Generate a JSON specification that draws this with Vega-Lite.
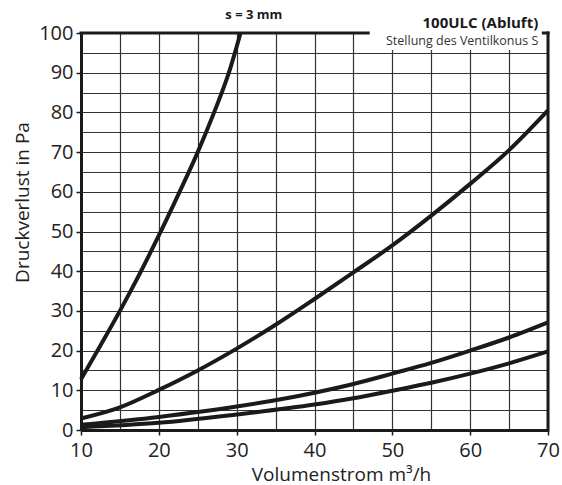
{
  "$schema": "https://vega.github.io/schema/vega-lite/v6.json",
  "autosize": "none",
  "width": 467,
  "height": 397,
  "padding": {"left": 81, "top": 33, "right": 14, "bottom": 55},
  "background": "white",
  "config": {
    "view": {"stroke": null},
    "font": "Open Sans",
    "axis": {
      "domainColor": "#1a1a1a",
      "domainWidth": 3,
      "gridColor": "#333333",
      "gridWidth": 1.2,
      "gridOpacity": 1,
      "tickColor": "#1a1a1a",
      "tickWidth": 1.5,
      "tickSize": 5,
      "labelFont": "Open Sans",
      "labelFontSize": 20,
      "labelColor": "#222222",
      "labelOverlap": false,
      "labelFlush": false,
      "titleFont": "Open Sans",
      "titleFontSize": 19,
      "titleFontWeight": "normal",
      "titleColor": "#222222"
    }
  },
  "data": {
    "values": [
      {"s": "a", "q": 10, "p": 12.8}, {"s": "a", "q": 12.5, "p": 21.3}, {"s": "a", "q": 15, "p": 30},
      {"s": "a", "q": 17.5, "p": 39.2}, {"s": "a", "q": 20, "p": 49}, {"s": "a", "q": 22.5, "p": 59.3},
      {"s": "a", "q": 25, "p": 70}, {"s": "a", "q": 27, "p": 79.5}, {"s": "a", "q": 29, "p": 90},
      {"s": "a", "q": 30.5, "p": 100},
      {"s": "b", "q": 10, "p": 2.9}, {"s": "b", "q": 15, "p": 5.7}, {"s": "b", "q": 20, "p": 10.1},
      {"s": "b", "q": 25, "p": 15}, {"s": "b", "q": 30, "p": 20.5}, {"s": "b", "q": 35, "p": 26.5},
      {"s": "b", "q": 40, "p": 33}, {"s": "b", "q": 45, "p": 39.7}, {"s": "b", "q": 50, "p": 46.5},
      {"s": "b", "q": 55, "p": 54}, {"s": "b", "q": 60, "p": 62}, {"s": "b", "q": 65, "p": 70.5},
      {"s": "b", "q": 70, "p": 80.5},
      {"s": "c", "q": 10, "p": 1.3}, {"s": "c", "q": 20, "p": 3.3}, {"s": "c", "q": 30, "p": 5.9},
      {"s": "c", "q": 40, "p": 9.4}, {"s": "c", "q": 45, "p": 11.6}, {"s": "c", "q": 50, "p": 14.2},
      {"s": "c", "q": 55, "p": 16.9}, {"s": "c", "q": 60, "p": 20}, {"s": "c", "q": 65, "p": 23.3},
      {"s": "c", "q": 70, "p": 27.1},
      {"s": "d", "q": 10, "p": 0.7}, {"s": "d", "q": 20, "p": 1.8}, {"s": "d", "q": 30, "p": 3.9},
      {"s": "d", "q": 40, "p": 6.4}, {"s": "d", "q": 45, "p": 8}, {"s": "d", "q": 50, "p": 9.9},
      {"s": "d", "q": 55, "p": 11.9}, {"s": "d", "q": 60, "p": 14.2}, {"s": "d", "q": 65, "p": 16.8},
      {"s": "d", "q": 70, "p": 19.8}
    ]
  },
  "layer": [
    {
      "mark": {"type": "line", "interpolate": "monotone", "color": "#1a1a1a", "strokeWidth": 4},
      "encoding": {
        "x": {
          "field": "q", "type": "quantitative",
          "scale": {"domain": [10, 70], "nice": false, "zero": false},
          "axis": {"values": [10, 15, 20, 25, 30, 35, 40, 45, 50, 55, 60, 65, 70], "labelExpr": "datum.value % 10 === 0 ? datum.label : ''", "tickOpacity": {"condition": {"test": "datum.value % 10 !== 0", "value": 0}, "value": 1}, "labelPadding": 5, "title": "Volumenstrom m³/h", "titleX": 260, "titlePadding": 5}
        },
        "y": {
          "field": "p", "type": "quantitative",
          "scale": {"domain": [0, 100], "nice": false, "zero": false},
          "axis": {"values": [0, 5, 10, 15, 20, 25, 30, 35, 40, 45, 50, 55, 60, 65, 70, 75, 80, 85, 90, 95, 100], "labelExpr": "datum.value % 10 === 0 ? datum.label : ''", "tickOpacity": {"condition": {"test": "datum.value % 10 !== 0", "value": 0}, "value": 1}, "labelPadding": 3, "title": "Druckverlust in Pa", "titleY": 169, "titlePadding": 6}
        },
        "detail": {"field": "s"}
      }
    },
    {
      "data": {"values": [{}]},
      "mark": {"type": "rect", "color": "white"},
      "encoding": {
        "x": {"datum": 46.9, "type": "quantitative", "scale": {"domain": [10, 70], "nice": false, "zero": false},
          "axis": {"values": [10, 15, 20, 25, 30, 35, 40, 45, 50, 55, 60, 65, 70], "labelExpr": "datum.value % 10 === 0 ? datum.label : ''", "tickOpacity": {"condition": {"test": "datum.value % 10 !== 0", "value": 0}, "value": 1}, "labelPadding": 5, "title": "Volumenstrom m³/h", "titleX": 260, "titlePadding": 5}},
        "x2": {"datum": 69.4},
        "y": {"datum": 95.7, "type": "quantitative", "scale": {"domain": [0, 100], "nice": false, "zero": false},
          "axis": {"values": [0, 5, 10, 15, 20, 25, 30, 35, 40, 45, 50, 55, 60, 65, 70, 75, 80, 85, 90, 95, 100], "labelExpr": "datum.value % 10 === 0 ? datum.label : ''", "tickOpacity": {"condition": {"test": "datum.value % 10 !== 0", "value": 0}, "value": 1}, "labelPadding": 3, "title": "Druckverlust in Pa", "titleY": 169, "titlePadding": 6}},
        "y2": {"datum": 100}
      }
    },
    {
      "data": {"values": [{}]},
      "mark": {"type": "rule", "color": "#1a1a1a", "strokeWidth": 3, "strokeCap": "square"},
      "encoding": {
        "x": {"datum": 10, "type": "quantitative", "scale": {"domain": [10, 70], "nice": false, "zero": false},
          "axis": {"values": [10, 15, 20, 25, 30, 35, 40, 45, 50, 55, 60, 65, 70], "labelExpr": "datum.value % 10 === 0 ? datum.label : ''", "tickOpacity": {"condition": {"test": "datum.value % 10 !== 0", "value": 0}, "value": 1}, "labelPadding": 5, "title": "Volumenstrom m³/h", "titleX": 260, "titlePadding": 5}},
        "x2": {"datum": 46.9},
        "y": {"datum": 100, "type": "quantitative", "scale": {"domain": [0, 100], "nice": false, "zero": false},
          "axis": {"values": [0, 5, 10, 15, 20, 25, 30, 35, 40, 45, 50, 55, 60, 65, 70, 75, 80, 85, 90, 95, 100], "labelExpr": "datum.value % 10 === 0 ? datum.label : ''", "tickOpacity": {"condition": {"test": "datum.value % 10 !== 0", "value": 0}, "value": 1}, "labelPadding": 3, "title": "Druckverlust in Pa", "titleY": 169, "titlePadding": 6}}
      }
    },
    {
      "data": {"values": [{}]},
      "mark": {"type": "rule", "color": "#1a1a1a", "strokeWidth": 3, "strokeCap": "square"},
      "encoding": {
        "x": {"datum": 69.4, "type": "quantitative", "scale": {"domain": [10, 70], "nice": false, "zero": false},
          "axis": {"values": [10, 15, 20, 25, 30, 35, 40, 45, 50, 55, 60, 65, 70], "labelExpr": "datum.value % 10 === 0 ? datum.label : ''", "tickOpacity": {"condition": {"test": "datum.value % 10 !== 0", "value": 0}, "value": 1}, "labelPadding": 5, "title": "Volumenstrom m³/h", "titleX": 260, "titlePadding": 5}},
        "x2": {"datum": 70},
        "y": {"datum": 100, "type": "quantitative", "scale": {"domain": [0, 100], "nice": false, "zero": false},
          "axis": {"values": [0, 5, 10, 15, 20, 25, 30, 35, 40, 45, 50, 55, 60, 65, 70, 75, 80, 85, 90, 95, 100], "labelExpr": "datum.value % 10 === 0 ? datum.label : ''", "tickOpacity": {"condition": {"test": "datum.value % 10 !== 0", "value": 0}, "value": 1}, "labelPadding": 3, "title": "Druckverlust in Pa", "titleY": 169, "titlePadding": 6}}
      }
    },
    {
      "data": {"values": [{}]},
      "mark": {"type": "rule", "color": "#1a1a1a", "strokeWidth": 3, "strokeCap": "square"},
      "encoding": {
        "x": {"datum": 70, "type": "quantitative", "scale": {"domain": [10, 70], "nice": false, "zero": false},
          "axis": {"values": [10, 15, 20, 25, 30, 35, 40, 45, 50, 55, 60, 65, 70], "labelExpr": "datum.value % 10 === 0 ? datum.label : ''", "tickOpacity": {"condition": {"test": "datum.value % 10 !== 0", "value": 0}, "value": 1}, "labelPadding": 5, "title": "Volumenstrom m³/h", "titleX": 260, "titlePadding": 5}},
        "y": {"datum": 0, "type": "quantitative", "scale": {"domain": [0, 100], "nice": false, "zero": false},
          "axis": {"values": [0, 5, 10, 15, 20, 25, 30, 35, 40, 45, 50, 55, 60, 65, 70, 75, 80, 85, 90, 95, 100], "labelExpr": "datum.value % 10 === 0 ? datum.label : ''", "tickOpacity": {"condition": {"test": "datum.value % 10 !== 0", "value": 0}, "value": 1}, "labelPadding": 3, "title": "Druckverlust in Pa", "titleY": 169, "titlePadding": 6}},
        "y2": {"datum": 100}
      }
    },
    {
      "data": {"values": [{}]},
      "mark": {"type": "text", "text": "s = 3 mm", "font": "Open Sans", "fontSize": 13, "fontWeight": "bold", "color": "#1a1a1a", "align": "center", "baseline": "alphabetic"},
      "encoding": {
        "x": {"datum": 32.2, "type": "quantitative", "scale": {"domain": [10, 70], "nice": false, "zero": false},
          "axis": {"values": [10, 15, 20, 25, 30, 35, 40, 45, 50, 55, 60, 65, 70], "labelExpr": "datum.value % 10 === 0 ? datum.label : ''", "tickOpacity": {"condition": {"test": "datum.value % 10 !== 0", "value": 0}, "value": 1}, "labelPadding": 5, "title": "Volumenstrom m³/h", "titleX": 260, "titlePadding": 5}},
        "y": {"datum": 103.5, "type": "quantitative", "scale": {"domain": [0, 100], "nice": false, "zero": false},
          "axis": {"values": [0, 5, 10, 15, 20, 25, 30, 35, 40, 45, 50, 55, 60, 65, 70, 75, 80, 85, 90, 95, 100], "labelExpr": "datum.value % 10 === 0 ? datum.label : ''", "tickOpacity": {"condition": {"test": "datum.value % 10 !== 0", "value": 0}, "value": 1}, "labelPadding": 3, "title": "Druckverlust in Pa", "titleY": 169, "titlePadding": 6}}
      }
    },
    {
      "data": {"values": [{}]},
      "mark": {"type": "text", "text": "100ULC (Abluft)", "font": "Open Sans", "fontSize": 15, "fontWeight": "bold", "color": "#1a1a1a", "align": "right", "baseline": "alphabetic"},
      "encoding": {
        "x": {"datum": 68.75, "type": "quantitative", "scale": {"domain": [10, 70], "nice": false, "zero": false},
          "axis": {"values": [10, 15, 20, 25, 30, 35, 40, 45, 50, 55, 60, 65, 70], "labelExpr": "datum.value % 10 === 0 ? datum.label : ''", "tickOpacity": {"condition": {"test": "datum.value % 10 !== 0", "value": 0}, "value": 1}, "labelPadding": 5, "title": "Volumenstrom m³/h", "titleX": 260, "titlePadding": 5}},
        "y": {"datum": 101.2, "type": "quantitative", "scale": {"domain": [0, 100], "nice": false, "zero": false},
          "axis": {"values": [0, 5, 10, 15, 20, 25, 30, 35, 40, 45, 50, 55, 60, 65, 70, 75, 80, 85, 90, 95, 100], "labelExpr": "datum.value % 10 === 0 ? datum.label : ''", "tickOpacity": {"condition": {"test": "datum.value % 10 !== 0", "value": 0}, "value": 1}, "labelPadding": 3, "title": "Druckverlust in Pa", "titleY": 169, "titlePadding": 6}}
      }
    },
    {
      "data": {"values": [{}]},
      "mark": {"type": "text", "text": "Stellung des Ventilkonus S", "font": "Open Sans", "fontSize": 12.5, "color": "#333333", "align": "right", "baseline": "alphabetic"},
      "encoding": {
        "x": {"datum": 68.75, "type": "quantitative", "scale": {"domain": [10, 70], "nice": false, "zero": false},
          "axis": {"values": [10, 15, 20, 25, 30, 35, 40, 45, 50, 55, 60, 65, 70], "labelExpr": "datum.value % 10 === 0 ? datum.label : ''", "tickOpacity": {"condition": {"test": "datum.value % 10 !== 0", "value": 0}, "value": 1}, "labelPadding": 5, "title": "Volumenstrom m³/h", "titleX": 260, "titlePadding": 5}},
        "y": {"datum": 97, "type": "quantitative", "scale": {"domain": [0, 100], "nice": false, "zero": false},
          "axis": {"values": [0, 5, 10, 15, 20, 25, 30, 35, 40, 45, 50, 55, 60, 65, 70, 75, 80, 85, 90, 95, 100], "labelExpr": "datum.value % 10 === 0 ? datum.label : ''", "tickOpacity": {"condition": {"test": "datum.value % 10 !== 0", "value": 0}, "value": 1}, "labelPadding": 3, "title": "Druckverlust in Pa", "titleY": 169, "titlePadding": 6}}
      }
    }
  ]
}
